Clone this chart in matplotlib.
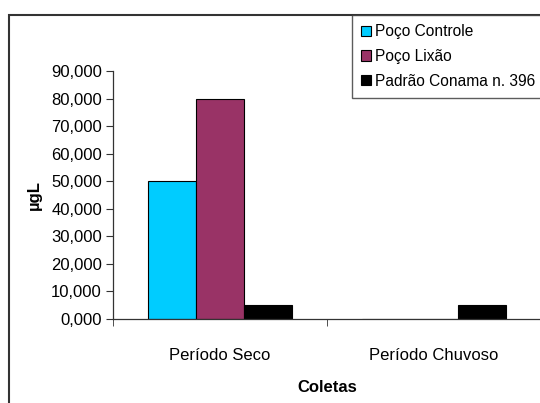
import matplotlib
matplotlib.use("Agg")
import matplotlib.pyplot as plt
from matplotlib.patches import Patch, Rectangle
import numpy as np

categories = ["Período Seco", "Período Chuvoso"]
series_names = ["Poço Controle", "Poço Lixão", "Padrão Conama n. 396"]
poco_controle = [50000, 0]
poco_lixao = [80000, 0]
padrao_conama = [5000, 5000]
ytick_values = [0, 10000, 20000, 30000, 40000, 50000, 60000, 70000, 80000, 90000]
ytick_labels = ["0,000", "10,000", "20,000", "30,000", "40,000", "50,000",
                "60,000", "70,000", "80,000", "90,000"]
colors = ["#00CCFF", "#993366", "#000000"]

plt.rcParams['font.family'] = ['Liberation Sans', 'DejaVu Sans']

W, H = 540, 403
fig = plt.figure(figsize=(W / 100, H / 100), dpi=100)

# outer chart frame
fig.patches.append(Rectangle((9 / W, -0.1), 1.2, 1 - 15 / H + 0.1, transform=fig.transFigure,
                             fill=False, edgecolor="#333333", linewidth=1.5, zorder=0))

ax_l, ax_r, ax_t, ax_b = 113, 541, 71, 319
ax = fig.add_axes([ax_l / W, 1 - ax_b / H, (ax_r - ax_l) / W, (ax_b - ax_t) / H])
x = np.arange(len(categories))
bw = 0.224
all_series = [poco_controle, poco_lixao, padrao_conama]
for i, (vals, name, c) in enumerate(zip(all_series, series_names, colors)):
    ax.bar(x + (i - 1) * bw, vals, width=bw, color=c, edgecolor="black",
           linewidth=0.8, label=name, zorder=2)

fs = 12
ax.set_xlim(-0.5, len(categories) - 0.5)
ax.set_ylim(0, 90000)
ax.set_yticks(ytick_values)
ax.set_yticklabels(ytick_labels, fontsize=fs)
ax.set_xticks(x)
ax.set_xticklabels(categories, fontsize=fs)
ax.tick_params(axis='x', length=0, pad=21)
ax.set_xticks([-0.5, 0.5, 1.5], minor=True)
ax.tick_params(axis='x', which='minor', length=5, direction='out', color="#333333")
ax.tick_params(axis='y', length=5, direction='out', color="#333333", pad=3)
for s in ["top", "right"]:
    ax.spines[s].set_visible(False)
for s in ["left", "bottom"]:
    ax.spines[s].set_color("#333333")
    ax.spines[s].set_linewidth(0.9)

ax.set_ylabel("µgL", fontsize=fs, fontweight="bold")
ax.yaxis.set_label_coords((34 - ax_l) / (ax_r - ax_l), 0.5)
ax.set_xlabel("Coletas", fontsize=fs, fontweight="bold")
ax.xaxis.set_label_coords(0.5, -(387 - ax_b) / (ax_b - ax_t))
ax.xaxis.label.set_va("center")
ax.yaxis.label.set_va("center")

handles = [Patch(facecolor=c, edgecolor="black", linewidth=0.8) for c in colors]
leg = fig.legend(handles, series_names, loc="upper left",
                 bbox_to_anchor=(352 / W, 1 - 15 / H), bbox_transform=fig.transFigure,
                 fontsize=11.2, frameon=True, fancybox=False, handlelength=0.65,
                 handleheight=0.65, handletextpad=0.25, labelspacing=0.62,
                 borderpad=0.6, borderaxespad=0)
leg.get_frame().set_edgecolor("#333333")
leg.get_frame().set_linewidth(1.0)

fig.savefig("out.png", dpi=100)
